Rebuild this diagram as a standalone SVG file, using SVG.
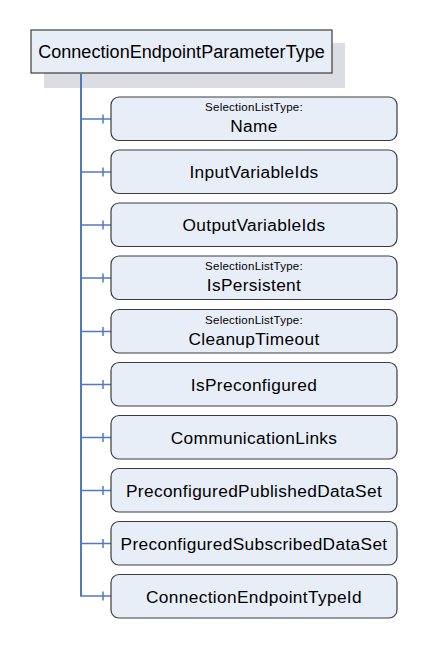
<svg xmlns="http://www.w3.org/2000/svg" width="426" height="649" viewBox="0 0 426 649">
<style>
.bg{fill:#ffffff}
.shadow{fill:#dcdde2}
.root{fill:#e8eef8;stroke:#3c3c3c;stroke-width:1.2}
.box{fill:#e8eef8;stroke:#3c3c3c;stroke-width:1.2}
.conn{fill:none;stroke:#4f7ac2;stroke-width:1.5}
.trunk{fill:none;stroke:#4f7ac2;stroke-width:2}
.t{font-family:"Liberation Sans",Arial,sans-serif;font-size:17.3px;letter-spacing:0.35px;fill:#000;text-anchor:middle}
.rt{font-family:"Liberation Sans",Arial,sans-serif;font-size:18px;letter-spacing:0.05px;fill:#000;text-anchor:middle}
.s{font-family:"Liberation Sans",Arial,sans-serif;font-size:11.5px;letter-spacing:0.25px;fill:#000;text-anchor:middle}
</style>
<rect class="bg" x="0" y="0" width="426" height="649"/>
<g id="root">
<rect class="shadow" x="44" y="43" width="301" height="45"/>
<rect class="root" x="31" y="30" width="301" height="43"/>
<text class="rt" x="181.5" y="58">ConnectionEndpointParameterType</text>
</g>
<g id="connectors">
<path class="trunk" d="M81 73 V596"/>
<path class="conn" d="M81 119 H111 M103 114.5 V123.5"/>
<path class="conn" d="M81 172 H111 M103 167.5 V176.5"/>
<path class="conn" d="M81 225 H111 M103 220.5 V229.5"/>
<path class="conn" d="M81 278 H111 M103 273.5 V282.5"/>
<path class="conn" d="M81 331.5 H111 M103 327 V336"/>
<path class="conn" d="M81 384.5 H111 M103 380 V389"/>
<path class="conn" d="M81 437.5 H111 M103 433 V442"/>
<path class="conn" d="M81 490.5 H111 M103 486 V495"/>
<path class="conn" d="M81 543.5 H111 M103 539 V548"/>
<path class="conn" d="M80 596 H111 M103 591.5 V600.5"/>
</g>
<g id="n1"><rect class="box" x="111" y="97" width="286" height="43.5" rx="8"/><text class="s" x="254" y="111">SelectionListType:</text><text class="t" x="254" y="132">Name</text></g>
<g id="n2"><rect class="box" x="111" y="150" width="286" height="43.5" rx="8"/><text class="t" x="254" y="178">InputVariableIds</text></g>
<g id="n3"><rect class="box" x="111" y="203" width="286" height="43.5" rx="8"/><text class="t" x="254" y="231">OutputVariableIds</text></g>
<g id="n4"><rect class="box" x="111" y="256" width="286" height="43.5" rx="8"/><text class="s" x="254" y="270">SelectionListType:</text><text class="t" x="254" y="291">IsPersistent</text></g>
<g id="n5"><rect class="box" x="111" y="309.5" width="286" height="43.5" rx="8"/><text class="s" x="254" y="323.5">SelectionListType:</text><text class="t" x="254" y="344.5">CleanupTimeout</text></g>
<g id="n6"><rect class="box" x="111" y="362.5" width="286" height="43.5" rx="8"/><text class="t" x="254" y="390.5">IsPreconfigured</text></g>
<g id="n7"><rect class="box" x="111" y="415.5" width="286" height="43.5" rx="8"/><text class="t" x="254" y="443.5">CommunicationLinks</text></g>
<g id="n8"><rect class="box" x="111" y="468.5" width="286" height="43.5" rx="8"/><text class="t" x="254" y="496.5">PreconfiguredPublishedDataSet</text></g>
<g id="n9"><rect class="box" x="111" y="521.5" width="286" height="43.5" rx="8"/><text class="t" x="254" y="549.5">PreconfiguredSubscribedDataSet</text></g>
<g id="n10"><rect class="box" x="111" y="574.5" width="286" height="43.5" rx="8"/><text class="t" x="254" y="602.5">ConnectionEndpointTypeId</text></g>
</svg>
